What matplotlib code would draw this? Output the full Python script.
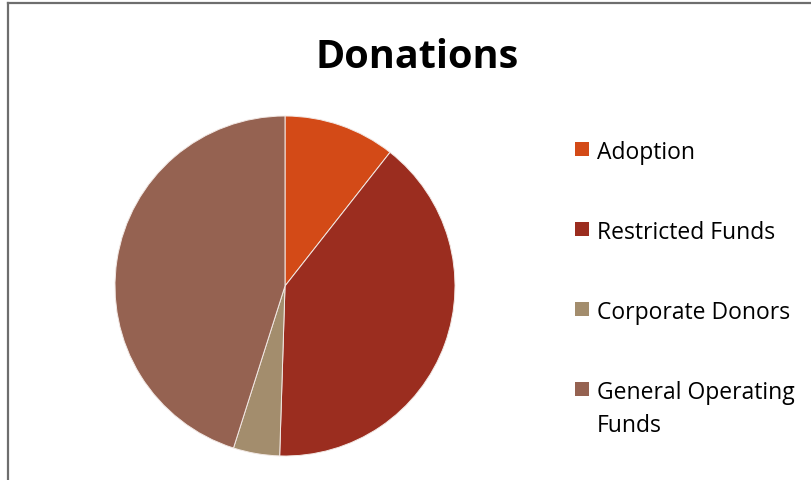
import matplotlib
matplotlib.use("Agg")
import matplotlib.pyplot as plt
from matplotlib.patches import Rectangle

# Donation shares (percent)
labels = ["Adoption", "Restricted Funds", "Corporate Donors", "General Operating\nFunds"]
shares = [10.6, 39.9, 4.4, 45.1]
colors = ["#D34A17", "#9B2D1F", "#A38D6D", "#956251"]

plt.rcParams['font.family'] = ['Open Sans', 'DejaVu Sans']

W, H = 812, 481
fig = plt.figure(figsize=(W / 100, H / 100), dpi=100)

# pie centered at (285, 286) px, radius 170 px
cx, cy, r = 285, 287, 170
ax = fig.add_axes([(cx - r) / W, 1 - (cy + r) / H, 2 * r / W, 2 * r / H])
ax.pie(shares, colors=colors, startangle=90, counterclock=False,
       wedgeprops=dict(edgecolor="#f2e8e4", linewidth=0.7))
ax.set_xlim(-1, 1)
ax.set_ylim(-1, 1)
ax.set_aspect('auto')
ax.axis('off')

fig.text(417 / W, 1 - 58 / H, "Donations", ha='center', va='center',
         fontsize=28.5, fontweight='bold', color='black')

# legend drawn by hand to match spacing
for i, (lab, col) in enumerate(zip(labels, colors)):
    y = 150 + 80 * i
    fig.patches.append(Rectangle((575 / W, 1 - (y + 7) / H), 14 / W, 14 / H,
                                 transform=fig.transFigure, facecolor=col,
                                 edgecolor='none'))
    fig.text(597 / W, 1 - (y - 9) / H, lab, ha='left', va='top',
             fontsize=16.5, color='black', linespacing=1.5)

# frame of the chart area (only top/left visible)
fig.add_artist(plt.Line2D([8.5 / W, 8.5 / W], [0, 1 - 4 / H], transform=fig.transFigure,
                          color='#6e6e6e', linewidth=1.6))
fig.add_artist(plt.Line2D([8.5 / W, 1], [1 - 4 / H, 1 - 4 / H], transform=fig.transFigure,
                          color='#6e6e6e', linewidth=1.6))

fig.savefig("out.png", dpi=100)
